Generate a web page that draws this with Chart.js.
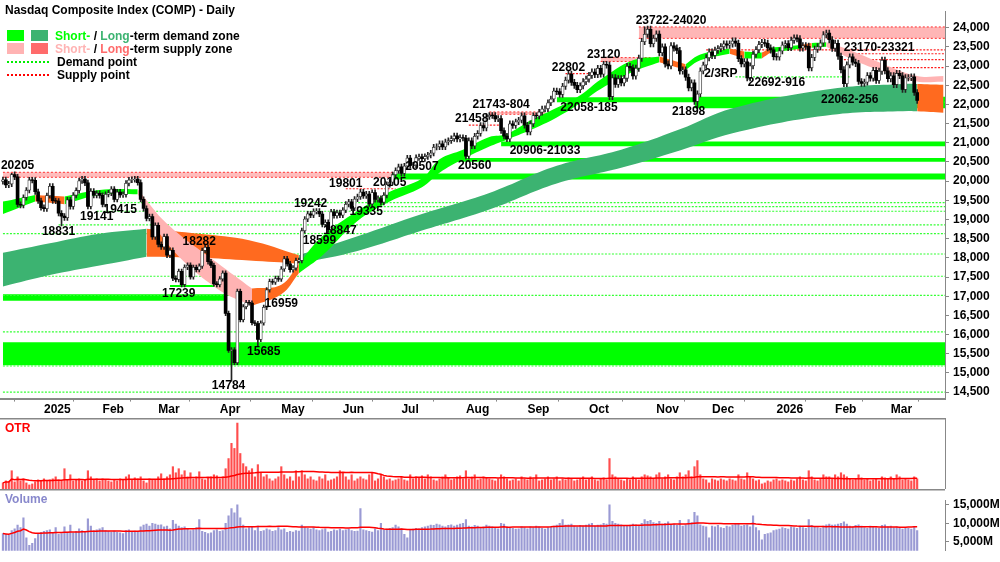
<!DOCTYPE html>
<html>
<head>
<meta charset="utf-8">
<script src="https://cdn.jsdelivr.net/npm/chart.js"></script>
<style>
  body { margin: 0; background: #fff; font-family: Arial, "Liberation Sans", sans-serif; }
  #wrap { position: relative; width: 1000px; height: 562px; overflow: hidden; }
  canvas { position: absolute; left: 0; }
  #price { top: 0; }
  #otr { top: 418px; }
  #vol { top: 489px; }
  .title { position: absolute; left: 5px; top: 3px; font: bold 12px Arial, sans-serif; z-index: 5; }
  .leg { position: absolute; left: 7px; font: bold 12px Arial, sans-serif; z-index: 5; line-height: 13px; }
  .sw { display: inline-block; width: 17px; height: 11px; margin-right: 7px; vertical-align: -1px; }
  .dot { display: inline-block; width: 42px; height: 0; border-top: 2px dotted; margin-right: 8px; vertical-align: 3px; }
  .plabel { position: absolute; left: 5px; font: bold 12px Arial, sans-serif; z-index: 5; }
</style>
</head>
<body>
<div id="wrap">
  <div class="title">Nasdaq Composite Index (COMP) - Daily</div>
  <div class="leg" style="top:30px"><span class="sw" style="background:#00ff00"></span><span class="sw" style="background:#3cb371"></span><span style="color:#00ff00">Short-</span> / <span style="color:#3cb371">Long</span>-term demand zone</div>
  <div class="leg" style="top:43px"><span class="sw" style="background:#ffb3b3"></span><span class="sw" style="background:#ff6b6b"></span><span style="color:#ffb3b3">Short-</span> / <span style="color:#ff6b6b">Long</span>-term supply zone</div>
  <div class="leg" style="top:56px"><span class="dot" style="border-color:#00ee00"></span>Demand point</div>
  <div class="leg" style="top:69px"><span class="dot" style="border-color:#ff0000"></span>Supply point</div>
  <div class="plabel" style="top:421px;color:#ff0000">OTR</div>
  <div class="plabel" style="top:492px;color:#8888cc">Volume</div>
  <canvas id="price" width="1000" height="418"></canvas>
  <canvas id="otr" width="1000" height="71"></canvas>
  <canvas id="vol" width="1000" height="73"></canvas>
</div>
<script>
// Daily closes, 11 Dec 2024 .. 13 Mar 2026, one array per month
const firstOpen = 19990;
const closes = [].concat(
  [20034,19902,19926,20173,20109,19393,19372,19573,19764,20031,20020,19722,19487,19311],
  [19280,19622,19865,19490,19479,19162,19088,19044,19511,19339,19630,19757,20009,20054,19954,19342,19734,19632,19681,19627],
  [19392,19654,19692,19791,19523,19714,19643,19649,19945,20027,20041,20056,19962,19524,19286,19026,19075,18544,18847],
  [18350,18285,18553,18069,18196,17468,17436,17648,17303,17754,17808,17504,17751,17692,17784,18189,18272,17900,17804,17323,17299],
  [17450,17601,16551,15588,15603,15268,17125,16387,16724,16832,16823,16307,16287,15871,16300,16708,17166,17383,17366,17461,17446],
  [17710,17977,17844,17690,17738,17928,17929,18708,19010,19146,19112,19211,19215,19143,18872,18925,18737,19199,19101,19175,19114],
  [19243,19398,19460,19298,19530,19591,19715,19615,19662,19407,19701,19521,19546,19447,19631,19913,19973,20168,20273,20370],
  [20202,20394,20601,20412,20418,20611,20630,20586,20640,20677,20730,20885,20896,20974,20893,21020,21057,21108,21178,21098,21130,21122],
  [20650,21053,20916,21169,21243,21450,21385,21682,21713,21710,21623,21630,21315,21172,21100,21496,21449,21544,21590,21705,21456],
  [21280,21498,21707,21700,21798,21879,21886,22043,22141,22349,22333,22261,22471,22631,22789,22573,22497,22384,22484,22591,22660],
  [22755,22845,22780,22941,22789,23044,23025,22204,22695,22522,22671,22562,22680,22991,22954,22740,22942,23205,23637,23827,23958,23581,23725],
  [23835,23349,23499,23054,23004,23527,23468,23406,22871,22901,22708,22433,22564,22078,22273,22872,23026,23215,23366],
  [23276,23414,23454,23505,23578,23545,23576,23654,23594,23195,23057,23111,22693,23006,23307,23428,23562,23613,23593,23474,23420,23242],
  [23236,23395,23547,23584,23480,23671,23733,23710,23471,23530,23515,22954,23224,23436,23501,23601,23817,23857,23685,23462],
  [23592,23255,22904,22541,23031,23238,23102,23066,22597,22546,22579,22753,22682,22886,22627,22864,23152,22878,22668],
  [22748,22517,22807,22748,22388,22695,22697,22716,22311,22105]
);
// known intraday extremes [index, high, low]
const wickOverrides = [[3,20205,null],[20,null,18831],[78,null,14784],[87,null,15685],[219,24020,null],[237,null,21898]];

// volume in hundreds of millions
const volume = [].concat(
  [72,70,68,80,85,95,88,115,60,40,45,58,70,75],
  [78,80,82,75,88,70,72,90,76,95,74,78,85,80,76,112,92,80,82,85],
  [88,80,78,76,79,75,74,72,80,82,78,79,77,90,95,98,92,100,98],
  [95,96,90,92,85,108,98,92,88,90,84,80,82,88,110,78,75,72,74,80,82],
  [78,80,100,120,140,128,150,115,95,85,88,90,80,92,78,80,85,82,78,80,88],
  [82,85,75,78,76,80,79,95,88,86,84,88,82,80,83,85,76,78,82,80,84],
  [80,82,84,80,78,79,140,82,80,78,76,85,80,100,82,84,86,88,95,90],
  [85,70,60,82,84,86,85,88,90,92,95,94,98,96,92,90,94,96,92,95,98,100],
  [110,92,90,94,92,88,90,95,92,90,86,85,100,98,90,88,86,84,85,90,88],
  [85,90,88,92,90,86,84,88,90,92,95,100,110,95,96,98,92,90,94,92,95],
  [98,100,92,95,96,100,98,150,105,100,98,96,94,92,95,98,96,94,100,110,105,108,102],
  [100,105,98,100,104,96,98,94,108,92,96,110,102,130,120,96,92,90,60],
  [92,90,94,88,86,92,90,95,98,100,92,94,96,90,120,88,80,55,70,72,74,80],
  [82,84,88,86,84,90,88,86,92,88,86,110,94,90,88,86,92,96,98,95],
  [96,98,100,104,98,92,90,94,96,92,88,86,92,90,88,86,94,96,90],
  [92,88,90,86,84,88,86,84,90,80]
);
const otr = [].concat(
  [6,8,7,18,7,12,8,10,6,4,5,7,9,8],
  [10,8,9,10,12,9,8,20,9,14,8,9,10,8,9,18,12,9,10,8],
  [10,9,8,7,9,8,10,9,12,14,9,11,10,12,8,6,10,9,9],
  [12,15,10,12,14,22,16,20,14,18,12,16,10,12,17,10,9,11,12,14,13],
  [10,12,20,30,45,40,65,35,25,22,18,20,12,24,16,12,14,10,8,10,12],
  [22,14,10,12,8,18,12,18,14,10,12,9,8,12,10,14,8,9,10,12,18],
  [16,12,9,14,8,10,12,10,9,14,16,8,10,14,12,9,10,8,9,10],
  [12,9,8,14,10,12,11,13,10,14,12,9,8,10,12,14,11,9,10,12,13,10],
  [18,10,12,14,9,10,12,11,10,9,8,10,14,12,10,8,9,10,8,12,10],
  [9,12,10,14,8,9,10,12,9,10,12,8,10,9,11,10,8,9,10,12,9],
  [10,12,9,8,10,11,9,30,14,12,10,9,8,10,9,12,10,9,12,14,13,12,10],
  [14,16,10,12,14,10,9,12,16,12,14,18,12,22,28,14,10,9,6],
  [10,9,8,10,9,8,10,9,8,14,10,9,16,12,10,8,9,5,6,8,7,9],
  [10,8,9,8,7,9,8,10,12,9,8,18,12,9,8,10,14,12,12,10],
  [14,12,16,14,12,10,9,10,14,11,9,10,8,9,10,8,12,11,10],
  [12,10,14,12,9,10,9,8,12,10]
);

const monthStarts = [14,34,53,74,95,116,136,158,179,200,223,242,264,284,303];
const monthLabels = ['2025','Feb','Mar','Apr','May','Jun','Jul','Aug','Sep','Oct','Nov','Dec','2026','Feb','Mar'];
const priceTicks = [14500,15000,15500,16000,16500,17000,17500,18000,18500,19000,19500,20000,20500,21000,21500,22000,22500,23000,23500,24000];
const volTicks = [5000,10000,15000];

// short-term zone keypoints (g = demand, p = supply, o = long-term supply colour)
const shortIdx  = [0,11,21,33,46,56,73,85,95,101,109,121,132,143,149,157,166,172,180,189,197,204,215,224,233,238,248,253,259,262,272,276,281,289,299,312,321];
const shortLow  = [19140,19466,19400,19640,19660,18380,17200,16750,17050,17600,18060,18960,19470,19840,20220,20570,20900,21080,21330,21660,22030,22400,22850,23100,22900,23150,23320,23200,23200,23350,23450,23480,23500,23200,22900,22600,22590];
const shortHigh = [19466,19640,19600,19770,19790,18890,17880,17200,17300,17850,18560,19220,19720,20070,20570,20820,21150,21230,21580,21910,22240,22650,23150,23250,23050,23300,23460,23380,23350,23480,23550,23600,23620,23420,23100,22740,22740];
const shortZone = ['g','o','g','g','p','p','p','o','o','g','g','g','g','g','g','g','g','g','g','g','g','g','g','o','g','g','o','g','o','g','o','g','p','p','p','p','p'];

// long-term zone keypoints
const longIdx  = [0,16,33,49,67,84,101,121,143,166,189,211,231,249,283,309,312,321];
const longLow  = [17250,17550,17800,18030,18000,17930,17850,18180,18710,19260,19940,20350,20800,21250,21730,21830,21820,21780];
const longHigh = [18130,18380,18630,18760,18630,18460,18070,18560,19140,19690,20400,20820,21350,21900,22410,22540,22530,22510];
const longZone = ['g','g','g','o','o','o','g','g','g','g','g','g','g','g','g','g','o','o'];

// horizontal zones [startIdx, endIdx|null, low, high]
const demandZones = [[0,null,15200,15800],[0,76,16880,17050],[57,76,17239,17290],[133,null,20040,20200],[155,null,20507,20600],[170,null,20906,21033],[189,236,22058,22185],[236,null,21898,22200]];
const supplyZones = [[0,134,20100,20230],[166,185,21743,21804],[204,221,23120,23220],[217,null,23722,24020]];
// dotted points [startIdx, endIdx|null, value]
const demandPoints = [[0,null,14500],[0,null,15180],[0,null,16070],[0,null,17020],[0,null,17520],[0,null,18100],[0,null,18630],[19,null,18860],[32,null,19215],[40,null,19440],[124,null,19335],[250,289,22716],[289,null,22062]];
const supplyPoints = [[117,134,19801],[159,170,21458],[192,204,22802],[240,null,23420],[287,null,23321],[287,null,23170],[300,null,22960]];

// text labels [index, value, text]
const priceLabels = [
  [5,20398,'20205'],[19,18685,'18831'],[32,19063,'19141'],[40,19264,'19415'],[67,18433,'18282'],
  [60,17073,'17239'],[95,16796,'16959'],[89,15562,'15685'],[77,14655,'14784'],[105,19415,'19242'],
  [108,18458,'18599'],[115,18710,'18847'],[117,19944,'19801'],[124,19214,'19335'],[132,19970,'20105'],
  [143,20373,'20507'],[161,20398,'20560'],[160,21632,'21458'],[170,21985,'21743-804'],[185,20801,'20906-21033'],
  [193,22967,'22802'],[200,21909,'22058-185'],[205,23294,'23120'],[228,24176,'23722-24020'],[245,22791,'2/3RP'],
  [264,22564,'22692-916'],[234,21808,'21898'],[299,23471,'23170-23321'],[289,22111,'22062-256']
];

const X_MIN = -1, X_MAX = 321.5;
const shortColors = { g: '#00ff00', p: '#ffb3b3', o: '#ff6a1f' };
const longColors  = { g: '#3cb371', o: '#ff6a1f' };

function bandDatasets(idx, lo, hi, zone, colors, order) {
  const out = [];
  const seg = (a, b, color) => {
    const l = [], h = [];
    for (let k = a; k <= b; k++) { l.push({x: idx[k], y: lo[k]}); h.push({x: idx[k], y: hi[k]}); }
    out.push({type: 'line', data: l, borderWidth: 0, pointRadius: 0, fill: false, tension: 0.4, order});
    out.push({type: 'line', data: h, borderWidth: 0, pointRadius: 0, fill: '-1', backgroundColor: color, tension: 0.4, order});
  };
  let start = 0;
  for (let i = 1; i < idx.length; i++) {
    if (i === idx.length - 1 || zone[i] !== zone[start]) { seg(start, i, colors[zone[start]]); start = i; }
  }
  return out;
}

function flatZone(z, color, order, dash) {
  const end = z[1] === null ? X_MAX : z[1];
  return [
    {type: 'line', data: [{x: z[0], y: z[2]}, {x: end, y: z[2]}], borderWidth: dash ? 1 : 0, borderColor: '#ff3030', borderDash: [2, 2], pointRadius: 0, fill: false, order},
    {type: 'line', data: [{x: z[0], y: z[3]}, {x: end, y: z[3]}], borderWidth: dash ? 1 : 0, borderColor: '#ff3030', borderDash: [2, 2], pointRadius: 0, fill: '-1', backgroundColor: color, order}
  ];
}

function dotLine(p, color, order) {
  const end = p[1] === null ? X_MAX : p[1];
  return {type: 'line', data: [{x: p[0], y: p[2]}, {x: end, y: p[2]}], borderWidth: 1.2, borderColor: color, borderDash: [2, 1.5], pointRadius: 0, fill: false, order};
}

function movingAverage(arr, n) {
  return arr.map((v, i) => {
    const s = arr.slice(Math.max(0, i - n + 1), i + 1);
    return s.reduce((a, b) => a + b, 0) / s.length;
  });
}

// candles
const wicks = [], upBodies = [], downBodies = [];
closes.forEach((c, i) => {
  const o = i === 0 ? firstOpen : closes[i - 1];
  let hi = Math.max(o, c) * 1.0035, lo = Math.min(o, c) * 0.9965;
  const ov = wickOverrides.find(w => w[0] === i);
  if (ov) { if (ov[1] !== null) hi = ov[1]; if (ov[2] !== null) lo = ov[2]; }
  wicks.push({x: i, y: [lo, hi]});
  const b = Math.abs(c - o) < 10 ? [o - 6, o + 6] : [o, c];
  if (c >= o) upBodies.push({x: i, y: b}); else downBodies.push({x: i, y: b});
});

const datasets = [];
demandZones.forEach(z => datasets.push(...flatZone(z, '#00ff00', 60, false)));
supplyZones.forEach((z, k) => datasets.push(...flatZone(z, k === 3 ? '#ffb6b6' : '#ffbcbc', 60, true)));
demandPoints.forEach(p => datasets.push(dotLine(p, '#33ff33', 55)));
supplyPoints.forEach(p => datasets.push(dotLine(p, '#ff2020', 55)));
datasets.push(...bandDatasets(longIdx, longLow, longHigh, longZone, longColors, 40));
datasets.push(...bandDatasets(shortIdx, shortLow, shortHigh, shortZone, shortColors, 30));
datasets.push({type: 'bar', data: wicks, backgroundColor: '#222', barThickness: 1, grouped: false, order: 3});
datasets.push({type: 'bar', data: upBodies, backgroundColor: '#fff', borderColor: '#333', borderWidth: 0.8, borderSkipped: false, barThickness: 3, grouped: false, order: 2});
datasets.push({type: 'bar', data: downBodies, backgroundColor: '#000', barThickness: 3, grouped: false, order: 1});

const labelPlugin = {
  id: 'labels',
  afterDatasetsDraw(chart) {
    const ctx = chart.ctx, xs = chart.scales.x, ys = chart.scales.y;
    ctx.save();
    ctx.font = 'bold 12px Arial, "Liberation Sans", sans-serif';
    ctx.fillStyle = '#000';
    ctx.textAlign = 'center';
    ctx.textBaseline = 'middle';
    priceLabels.forEach(l => ctx.fillText(l[2], xs.getPixelForValue(l[0]), ys.getPixelForValue(l[1])));
    ctx.restore();
  }
};

const topLine = {
  id: 'topLine',
  afterDraw(chart) {
    const ctx = chart.ctx;
    ctx.save();
    ctx.strokeStyle = '#888';
    ctx.lineWidth = 2;
    ctx.beginPath(); ctx.moveTo(0, 0.5); ctx.lineTo(chart.chartArea.right, 0.5); ctx.stroke();
    ctx.restore();
  }
};

const tickFont = {family: 'Arial, "Liberation Sans", sans-serif', size: 12, weight: 'bold'};
const rightAxis = (extra) => Object.assign({
  position: 'right',
  afterFit: s => { s.width = 55; },
  grid: {drawOnChartArea: false, tickLength: 4, color: '#888'},
  border: {display: true, color: '#888'},
  ticks: {color: '#000', font: tickFont, padding: 4}
}, extra);

new Chart(document.getElementById('price'), {
  type: 'bar',
  data: {datasets},
  options: {
    responsive: false, animation: false,
    layout: {padding: 0},
    plugins: {legend: {display: false}, tooltip: {enabled: false}},
    scales: {
      x: {
        type: 'linear', min: X_MIN, max: X_MAX, offset: false,
        afterBuildTicks: s => { s.ticks = monthStarts.map(v => ({value: v})); },
        grid: {drawOnChartArea: false, tickLength: 3, color: '#888'},
        border: {display: true, color: '#888', width: 2},
        ticks: {color: '#000', font: tickFont, padding: 1, align: 'start', maxRotation: 0, autoSkip: false,
                callback: (v, i) => monthLabels[i]}
      },
      y: rightAxis({
        min: 14330, max: 24430,
        afterBuildTicks: s => { s.ticks = priceTicks.map(v => ({value: v})); },
        ticks: {color: '#000', font: tickFont, padding: 4, callback: v => v.toLocaleString('en-US')}
      })
    }
  },
  plugins: [labelPlugin]
});

const otrAvg = movingAverage(otr, 50);
new Chart(document.getElementById('otr'), {
  type: 'bar',
  data: {datasets: [
    {type: 'line', data: otrAvg.map((v, i) => ({x: i, y: v})), borderColor: '#ff0000', borderWidth: 1.5, pointRadius: 0, order: 1},
    {type: 'bar', data: otr.map((v, i) => ({x: i, y: v})), backgroundColor: '#ff4d4d', barThickness: 1.5, grouped: false, order: 2}
  ]},
  options: {
    responsive: false, animation: false,
    layout: {padding: 0},
    plugins: {legend: {display: false}, tooltip: {enabled: false}},
    scales: {
      x: {type: 'linear', min: X_MIN, max: X_MAX, offset: false, display: false},
      y: rightAxis({min: 0, max: 70, ticks: {display: false}, grid: {display: false}})
    }
  },
  plugins: [topLine]
});

const volM = volume.map(v => v * 100);
const volAvg = movingAverage(volM, 50);
new Chart(document.getElementById('vol'), {
  type: 'bar',
  data: {datasets: [
    {type: 'line', data: volAvg.map((v, i) => ({x: i, y: v})), borderColor: '#ff0000', borderWidth: 1.5, pointRadius: 0, order: 1},
    {type: 'bar', data: volM.map((v, i) => ({x: i, y: v})), backgroundColor: '#9a9ad4', barThickness: 1.5, grouped: false, order: 2}
  ]},
  options: {
    responsive: false, animation: false,
    layout: {padding: 0},
    plugins: {legend: {display: false}, tooltip: {enabled: false}},
    scales: {
      x: {type: 'linear', min: X_MIN, max: X_MAX, offset: false, display: false},
      y: rightAxis({
        min: 2500, max: 16270,
        afterBuildTicks: s => { s.ticks = volTicks.map(v => ({value: v})); },
        ticks: {color: '#000', font: tickFont, padding: 4, callback: v => v.toLocaleString('en-US') + 'M'}
      })
    }
  },
  plugins: [topLine]
});
</script>
</body>
</html>
